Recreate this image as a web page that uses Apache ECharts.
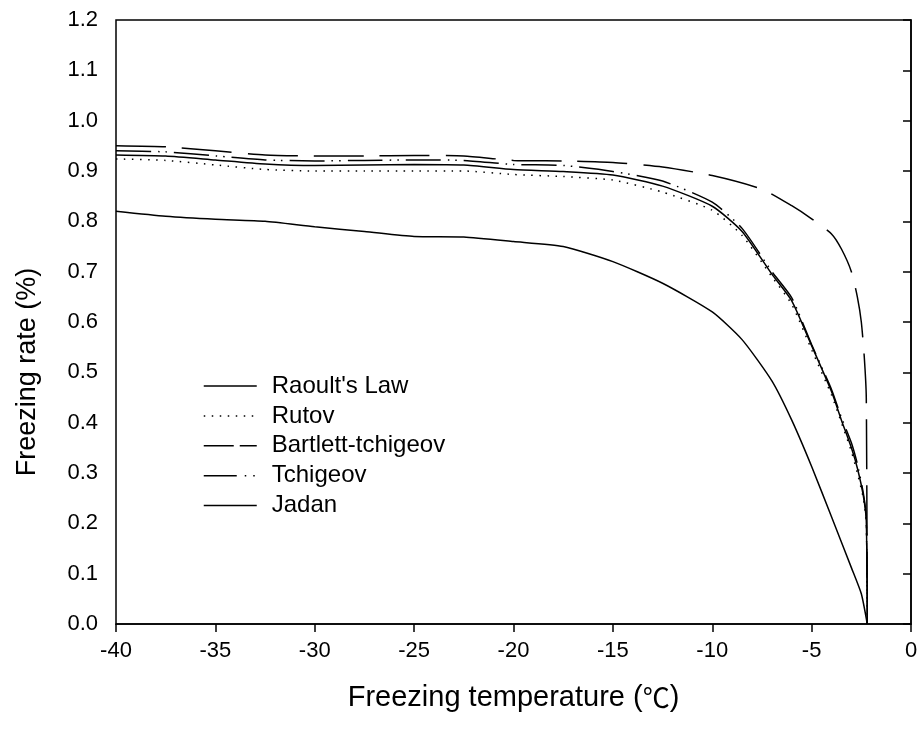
<!DOCTYPE html>
<html>
<head>
<meta charset="utf-8">
<script src="https://cdn.jsdelivr.net/npm/echarts@6/dist/echarts.min.js"></script>
<style>html,body{margin:0;padding:0;background:#fff}#c{width:922px;height:731px}</style>
</head>
<body>
<div id="c"></div>
<script>
// ---- data ----
const seriesNames = ["Raoult's Law", "Rutov", "Bartlett-tchigeov", "Tchigeov", "Jadan"];

const tempRaoult = [-40,-37.5,-35,-32.5,-30,-27.5,-25,-22.5,-20,-17.5,-15,-12.5,-10,-8.5,-7,-6,-5,-4,-3.5,-3,-2.7,-2.4,-2.25,-2.2];
const rateRaoult = [0.932,0.930,0.922,0.914,0.911,0.912,0.913,0.912,0.903,0.899,0.892,0.870,0.830,0.780,0.695,0.642,0.553,0.462,0.405,0.350,0.310,0.255,0.205,0.0];

const tempRutov = [-40,-37.5,-35,-32.5,-30,-27.5,-25,-22.5,-20,-17.5,-15,-12.5,-10,-8.5,-7,-6,-5,-4,-3.5,-3,-2.7,-2.4,-2.25,-2.2];
const rateRutov = [0.924,0.921,0.912,0.903,0.900,0.900,0.900,0.900,0.893,0.889,0.882,0.858,0.822,0.772,0.690,0.635,0.545,0.455,0.400,0.343,0.300,0.250,0.200,0.0];

const tempBartlett = [-40,-37.5,-35,-32.5,-30,-27.5,-25,-22.5,-20,-17.5,-15,-12.5,-10,-7.5,-6,-5,-4,-3.5,-3,-2.7,-2.5,-2.35,-2.25,-2.2];
const rateBartlett = [0.950,0.948,0.940,0.932,0.930,0.930,0.931,0.930,0.921,0.920,0.917,0.908,0.891,0.864,0.831,0.805,0.775,0.745,0.700,0.650,0.600,0.530,0.450,0.0];

const tempTchigeov = [-40,-37.5,-35,-32.5,-30,-27.5,-25,-22.5,-20,-17.5,-15,-12.5,-10,-8.5,-7,-6,-5,-4,-3.5,-3,-2.7,-2.4,-2.25,-2.2];
const rateTchigeov = [0.940,0.938,0.930,0.922,0.920,0.921,0.922,0.921,0.913,0.911,0.899,0.880,0.838,0.786,0.700,0.648,0.555,0.466,0.410,0.360,0.318,0.260,0.210,0.0];

const tempJadan = [-40,-37.5,-35,-32.5,-30,-27.5,-25,-22.5,-20,-17.5,-15,-12.5,-10,-8.5,-7,-6,-5,-4,-3,-2.5,-2.2];
const rateJadan = [0.820,0.810,0.804,0.800,0.789,0.780,0.770,0.769,0.760,0.750,0.720,0.677,0.620,0.565,0.483,0.405,0.313,0.213,0.112,0.060,0.0];

const xTicks = {min: -40, max: 0, step: 5};
const yTicks = {min: 0, max: 1.2, step: 0.1};

// ---- chart ----
const pairs = (xs, ys) => xs.map((x, i) => [x, ys[i]]);
const font = "'Liberation Sans', Arial, 'Noto Sans CJK SC', sans-serif";

const styles = {
  "Raoult's Law": 'solid',
  "Rutov": [1.5, 6.5],
  "Bartlett-tchigeov": [50, 16],
  "Tchigeov": [35, 7, 1.5, 6, 1.5, 7],
  "Jadan": 'solid'
};
const legendStyles = {
  "Raoult's Law": 'solid',
  "Rutov": [1.5, 6.5],
  "Bartlett-tchigeov": [30, 6],
  "Tchigeov": [33, 8, 1.5, 7, 1.5, 10],
  "Jadan": 'solid'
};
const dataMap = {
  "Raoult's Law": pairs(tempRaoult, rateRaoult),
  "Rutov": pairs(tempRutov, rateRutov),
  "Bartlett-tchigeov": pairs(tempBartlett, rateBartlett),
  "Tchigeov": pairs(tempTchigeov, rateTchigeov),
  "Jadan": pairs(tempJadan, rateJadan)
};

const chart = echarts.init(document.getElementById('c'), null, {renderer: 'canvas'});
chart.setOption({
  animation: false,
  backgroundColor: '#fff',
  grid: {left: 116, right: 11, top: 20, bottom: 107, show: true, borderColor: '#000', borderWidth: 1.5, backgroundColor: 'transparent'},
  legend: {
    orient: 'vertical', left: 203, top: 374, padding: 0,
    itemWidth: 53, itemHeight: 14, itemGap: 5.9,
    data: seriesNames.map(n => ({
      name: n,
      itemStyle: {opacity: 0},
      lineStyle: {type: legendStyles[n], width: 1.5, color: '#000'}
    })),
    textStyle: {fontFamily: font, fontSize: 24, color: '#000', padding: [0, 0, 0, 10]},
    inactiveColor: '#000'
  },
  xAxis: {
    type: 'value', min: xTicks.min, max: xTicks.max, interval: xTicks.step,
    name: 'Freezing temperature ({c|℃})', nameLocation: 'middle', nameGap: 59,
    nameTextStyle: {
      fontFamily: font, fontSize: 29, color: '#000',
      rich: {c: {fontFamily: "'Noto Sans CJK SC', sans-serif", fontSize: 27, color: '#000'}}
    },
    axisLine: {lineStyle: {color: '#000', width: 1.5}},
    axisTick: {show: true, inside: false, length: 8, lineStyle: {color: '#000', width: 1.5}},
    axisLabel: {fontFamily: font, fontSize: 22, color: '#000', margin: 16},
    splitLine: {show: false}
  },
  yAxis: {
    type: 'value', min: yTicks.min, max: yTicks.max, interval: yTicks.step,
    name: 'Freezing rate (%)', nameLocation: 'middle', nameGap: 75,
    nameTextStyle: {fontFamily: font, fontSize: 27, color: '#000', padding: [0, 100, 0, 0]},
    axisLine: {lineStyle: {color: '#000', width: 1.5}},
    axisTick: {show: true, inside: false, length: 8, lineStyle: {color: '#000', width: 1.5}},
    axisLabel: {fontFamily: font, fontSize: 22, color: '#000', margin: 18, formatter: v => v.toFixed(1)},
    splitLine: {show: false}
  },
  series: seriesNames.map(n => ({
    name: n, type: 'line', data: dataMap[n],
    symbol: 'none', showSymbol: false,
    smooth: 0.2,
    lineStyle: {color: '#000', width: 1.5, type: styles[n]},
    itemStyle: {color: '#000'},
    emphasis: {disabled: true}
  }))
});
</script>
</body>
</html>
